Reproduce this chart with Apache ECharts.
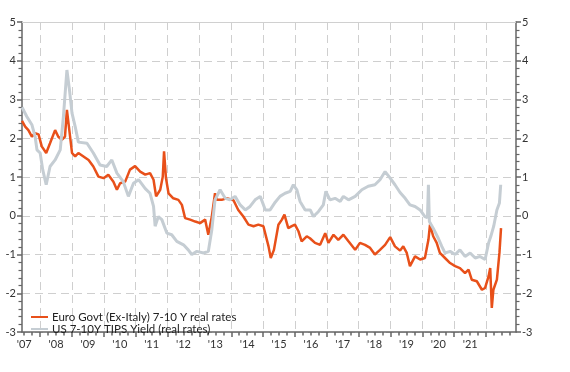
<!DOCTYPE html>
<html>
<head>
<meta charset="utf-8">
<script src="https://cdn.jsdelivr.net/npm/echarts@6/dist/echarts.min.js"></script>
<style>
html,body{margin:0;padding:0;background:#fff;}
#chart{width:570px;height:372px;}
</style>
</head>
<body>
<div id="chart"></div>
<script>
// Decimal-year dates and values
var euroDates = [2007.43,2007.53,2007.63,2007.74,2007.84,2007.95,2008.05,2008.19,2008.31,2008.47,2008.57,2008.68,2008.78,2008.84,2008.94,2009.0,2009.10,2009.20,2009.36,2009.52,2009.67,2009.83,2009.99,2010.14,2010.30,2010.41,2010.51,2010.67,2010.82,2010.98,2011.14,2011.30,2011.45,2011.56,2011.64,2011.77,2011.85,2011.89,2011.95,2012.03,2012.18,2012.34,2012.45,2012.55,2012.71,2012.87,2013.02,2013.18,2013.28,2013.39,2013.49,2013.55,2013.70,2013.86,2014.07,2014.22,2014.38,2014.54,2014.70,2014.85,2015.01,2015.17,2015.24,2015.34,2015.48,2015.59,2015.67,2015.79,2015.90,2016.00,2016.11,2016.21,2016.37,2016.47,2016.63,2016.79,2016.95,2017.05,2017.21,2017.36,2017.52,2017.68,2017.89,2018.04,2018.20,2018.36,2018.51,2018.67,2018.83,2018.99,2019.14,2019.30,2019.40,2019.51,2019.61,2019.77,2019.93,2020.08,2020.19,2020.24,2020.34,2020.45,2020.55,2020.71,2020.87,2021.03,2021.18,2021.34,2021.45,2021.55,2021.71,2021.87,2021.97,2022.08,2022.13,2022.18,2022.23,2022.34,2022.42,2022.47];
var euroValues = [2.45,2.30,2.21,2.04,2.13,2.10,1.79,1.62,1.87,2.21,2.04,1.96,2.04,2.73,2.04,1.62,1.53,1.62,1.53,1.44,1.27,1.01,0.97,1.06,0.88,0.67,0.84,0.88,1.19,1.28,1.14,1.06,1.10,0.93,0.50,0.67,1.01,1.66,0.97,0.58,0.45,0.41,0.28,-0.06,-0.10,-0.15,-0.19,-0.10,-0.49,-0.02,0.58,0.41,0.41,0.45,0.40,0.15,-0.02,-0.23,-0.27,-0.23,-0.27,-0.79,-1.09,-0.88,-0.23,-0.10,0.03,-0.32,-0.27,-0.23,-0.40,-0.66,-0.53,-0.58,-0.70,-0.75,-0.45,-0.70,-0.49,-0.62,-0.49,-0.66,-0.88,-0.70,-0.75,-0.83,-1.00,-0.88,-0.75,-0.55,-0.79,-0.90,-0.79,-0.96,-1.30,-1.05,-1.13,-1.09,-0.62,-0.23,-0.53,-0.70,-0.96,-1.09,-1.22,-1.30,-1.35,-1.48,-1.39,-1.65,-1.69,-1.91,-1.86,-1.56,-1.35,-2.38,-1.91,-1.65,-0.96,-0.32];

var usDates = [2007.43,2007.58,2007.74,2007.84,2007.90,2008.0,2008.08,2008.19,2008.31,2008.47,2008.63,2008.73,2008.84,2008.92,2009.0,2009.10,2009.20,2009.47,2009.67,2009.88,2010.09,2010.25,2010.41,2010.61,2010.77,2010.93,2011.09,2011.30,2011.45,2011.56,2011.61,2011.71,2011.82,2011.98,2012.13,2012.29,2012.50,2012.65,2012.76,2012.92,2013.13,2013.28,2013.39,2013.49,2013.65,2013.81,2013.96,2014.12,2014.28,2014.44,2014.59,2014.75,2014.91,2015.07,2015.22,2015.38,2015.53,2015.69,2015.85,2015.95,2016.06,2016.16,2016.32,2016.48,2016.58,2016.74,2016.89,2016.97,2017.10,2017.26,2017.42,2017.52,2017.68,2017.89,2018.10,2018.30,2018.51,2018.67,2018.83,2018.99,2019.14,2019.30,2019.46,2019.61,2019.77,2019.93,2020.08,2020.16,2020.19,2020.22,2020.34,2020.50,2020.61,2020.71,2020.87,2021.03,2021.18,2021.34,2021.50,2021.66,2021.81,2021.97,2022.08,2022.15,2022.24,2022.34,2022.42,2022.46];
var usValues = [2.80,2.56,2.35,2.05,1.70,1.62,1.19,0.80,1.27,1.44,1.70,2.56,3.76,3.25,2.65,2.30,1.90,1.87,1.62,1.31,1.27,1.44,1.10,0.88,0.50,0.84,0.93,0.70,0.58,0.24,-0.27,-0.02,-0.10,-0.45,-0.49,-0.66,-0.75,-0.88,-1.00,-0.92,-0.96,-0.92,-0.36,0.41,0.67,0.45,0.41,0.50,0.28,0.15,0.24,0.41,0.50,0.15,0.15,0.35,0.50,0.58,0.63,0.80,0.67,0.37,0.15,0.15,-0.02,0.11,0.28,0.63,0.41,0.45,0.37,0.50,0.41,0.50,0.67,0.76,0.80,0.93,1.14,0.97,0.80,0.60,0.45,0.28,0.24,0.15,-0.02,-0.05,0.80,-0.15,-0.32,-0.58,-0.79,-0.96,-0.92,-1.00,-0.88,-1.05,-0.96,-1.09,-1.05,-1.13,-0.70,-0.53,-0.27,0.15,0.33,0.80];

var yearTicks = [2008,2009,2010,2011,2012,2013,2014,2015,2016,2017,2018,2019,2020,2021,2022];
var yearLabelPos = [2007.5,2008.5,2009.5,2010.5,2011.5,2012.5,2013.5,2014.5,2015.5,2016.5,2017.5,2018.5,2019.5,2020.5,2021.5];
var quarterTicks = [2007.5,2007.75,2008.25,2008.5,2008.75,2009.25,2009.5,2009.75,2010.25,2010.5,2010.75,2011.25,2011.5,2011.75,2012.25,2012.5,2012.75,2013.25,2013.5,2013.75,2014.25,2014.5,2014.75,2015.25,2015.5,2015.75,2016.25,2016.5,2016.75,2017.25,2017.5,2017.75,2018.25,2018.5,2018.75,2019.25,2019.5,2019.75,2020.25,2020.5,2020.75,2021.25,2021.5,2021.75,2022.25,2022.5,2022.75];

var xMin = 2007.43, xMax = 2022.94;
var FONT = 'Lato';
var AXIS = '#666666';

function pairs(d, v){ return d.map(function(x,i){ return [x, v[i]]; }); }

var chart = echarts.init(document.getElementById('chart'), null, {renderer:'canvas'});
chart.setOption({
  animation: false,
  backgroundColor: '#fff',
  textStyle: {fontFamily: FONT},
  grid: {left: 22, right: 54, top: 22, bottom: 40},
  legend: {
    orient: 'vertical', left: 26, top: 306, itemGap: 0,
    itemWidth: 17, itemHeight: 2, icon: 'rect',
    textStyle: {fontFamily: FONT, fontSize: 11.5, color: '#222', lineHeight: 11, padding:[0,0,0,-1]},
    data: ['Euro Govt (Ex-Italy) 7-10 Y real rates', 'US 7-10Y TIPS Yield (real rates)']
  },
  xAxis: [
    {
      type: 'value', min: xMin, max: xMax, position: 'bottom',
      axisLine: {show: true, onZero: false, lineStyle: {color: AXIS, width: 1.5}},
      axisTick: {show: true, customValues: yearTicks, length: 5, lineStyle: {color: AXIS, width: 1.5}},
      axisLabel: {show: true, customValues: yearLabelPos, margin: 7, color: '#333', fontSize: 11, fontFamily: FONT,
        formatter: function(v){ return "'" + String(Math.floor(v)).slice(2); }},
      splitLine: {show: true, lineStyle: {color: '#cfcfcf', type: [8,5], width: 1}}
    },
    {
      type: 'value', min: xMin, max: xMax, position: 'bottom', offset: 0,
      axisLine: {show: false, onZero: false},
      axisTick: {show: true, customValues: quarterTicks, length: 3.5, lineStyle: {color: AXIS, width: 1.5}},
      axisLabel: {show: false}, splitLine: {show: false}
    },
    {
      type: 'value', min: xMin, max: xMax, position: 'top',
      axisLine: {show: true, onZero: false, lineStyle: {color: '#d0d0d0', width: 1}},
      axisTick: {show: false}, axisLabel: {show: false}, splitLine: {show: false}
    }
  ],
  yAxis: [
    {
      type: 'value', min: -3, max: 5, interval: 1, position: 'left',
      axisLine: {show: true, onZero: false, lineStyle: {color: AXIS, width: 1.5}},
      axisTick: {show: true, length: 5, lineStyle: {color: AXIS, width: 1.5}},
      minorTick: {show: true, splitNumber: 5, length: 3.5, lineStyle: {color: AXIS, width: 1.2}},
      axisLabel: {margin: 6, color: '#333', fontSize: 11, fontFamily: FONT},
      splitLine: {show: true, lineStyle: {color: '#cfcfcf', type: [8,5], width: 1}}
    },
    {
      type: 'value', min: -3, max: 5, interval: 1, position: 'right',
      axisLine: {show: true, onZero: false, lineStyle: {color: AXIS, width: 1.5}},
      axisTick: {show: true, length: 5, lineStyle: {color: AXIS, width: 1.5}},
      minorTick: {show: true, splitNumber: 5, length: 3.5, lineStyle: {color: AXIS, width: 1.2}},
      axisLabel: {margin: 6, color: '#333', fontSize: 11, fontFamily: FONT},
      splitLine: {show: false}
    }
  ],
  series: [
    {
      name: 'Euro Govt (Ex-Italy) 7-10 Y real rates', type: 'line', xAxisIndex: 0, yAxisIndex: 0,
      showSymbol: false, symbol: 'none',
      lineStyle: {color: '#E8501A', width: 2.5}, itemStyle: {color: '#E8501A'},
      data: pairs(euroDates, euroValues)
    },
    {
      name: 'US 7-10Y TIPS Yield (real rates)', type: 'line', xAxisIndex: 0, yAxisIndex: 0,
      showSymbol: false, symbol: 'none',
      lineStyle: {color: '#C5CDD3', width: 3}, itemStyle: {color: '#C5CDD3'},
      data: pairs(usDates, usValues)
    }
  ]
});
</script>
</body>
</html>
